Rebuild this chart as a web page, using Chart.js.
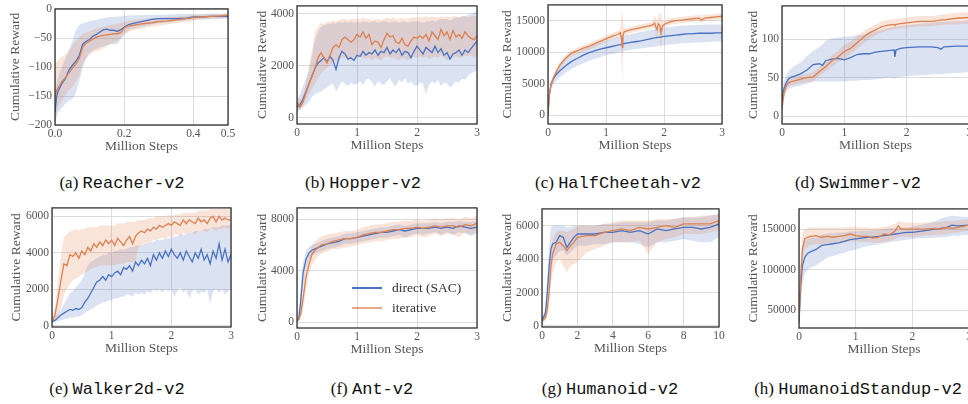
<!DOCTYPE html>
<html>
<head>
<meta charset="utf-8">
<script src="https://cdn.jsdelivr.net/npm/chart.js@4.4.1/dist/chart.umd.min.js"></script>
<style>
    body { margin: 0; width: 968px; height: 404px; overflow: hidden; background: #fff; position: relative; }
    canvas { position: absolute; }
    .cap { position: absolute; transform: translate(-50%, -50%); white-space: nowrap; font: 17px 'Liberation Serif', serif; color: #111; }
    .cap span { font-family: 'Liberation Mono', monospace; font-size: 17px; }
    .leg { position: absolute; font: 13.5px 'Liberation Serif', serif; color: #333; }
    .leg i { position: absolute; height: 1.5px; width: 30px; }
</style>
</head>
<body>
<script>
const seriesNames = ['direct (SAC)', 'iterative'];

// shared x grid for the noisy 3M-step runs
const steps3 = [0, 0.05, 0.1, 0.15, 0.2, 0.25, 0.3, 0.35, 0.4, 0.45, 0.5, 0.55, 0.6, 0.65, 0.7, 0.75, 0.8, 0.85, 0.9, 0.95,
    1.0, 1.05, 1.1, 1.15, 1.2, 1.25, 1.3, 1.35, 1.4, 1.45, 1.5, 1.55, 1.6, 1.65, 1.7, 1.75, 1.8, 1.85, 1.9, 1.95,
    2.0, 2.05, 2.1, 2.15, 2.2, 2.25, 2.3, 2.35, 2.4, 2.45, 2.5, 2.55, 2.6, 2.65, 2.7, 2.75, 2.8, 2.85, 2.9, 2.95, 3.0];
const ticks3 = [0, 1, 2, 3];

// (a) Reacher
const reacherSteps = [0, 0.005, 0.01, 0.02, 0.03, 0.04, 0.05, 0.06, 0.07, 0.08, 0.09, 0.1, 0.11, 0.12, 0.13, 0.14, 0.15, 0.16, 0.17, 0.18,
    0.19, 0.2, 0.21, 0.22, 0.25, 0.28, 0.3, 0.32, 0.35, 0.38, 0.4, 0.42, 0.45, 0.48, 0.5];
const reacherDirect = [-178, -150, -140, -128, -120, -105, -97, -90, -80, -60, -55, -52, -46, -43, -39, -35, -34, -36, -36, -38,
    -35, -31, -27, -25, -21, -17, -16, -16, -16, -15, -13, -13, -12, -12, -12];
const reacherDirectLo = [-200, -185, -178, -170, -163, -158, -155, -145, -125, -100, -85, -75, -70, -68, -66, -64, -62, -60, -60, -60,
    -52, -42, -37, -34, -30, -26, -24, -23, -21, -19, -18, -17, -16, -16, -16];
const reacherDirectHi = [-150, -125, -115, -100, -85, -70, -55, -36, -27, -24, -22, -20, -19, -18, -16, -15, -14, -13, -13, -12,
    -12, -11, -11, -10, -10, -9, -9, -9, -8, -8, -8, -8, -7, -7, -7];
const reacherIter = [-152, -140, -135, -125, -118, -110, -102, -95, -85, -65, -58, -55, -51, -48, -46, -45, -44, -43, -42, -42,
    -40, -32, -29, -28, -25, -23, -21, -20, -18, -16, -14, -13, -12, -11, -10];
const reacherIterLo = [-200, -180, -168, -158, -148, -140, -135, -125, -115, -95, -85, -78, -74, -72, -70, -67, -64, -60, -58, -55,
    -50, -44, -40, -37, -33, -30, -28, -26, -24, -21, -20, -18, -17, -16, -15];
const reacherIterHi = [-95, -90, -87, -82, -78, -72, -62, -55, -48, -42, -40, -38, -35, -33, -31, -30, -28, -27, -26, -25,
    -23, -22, -20, -19, -17, -15, -14, -13, -12, -11, -10, -9, -8, -8, -7];
const reacherXTicks = [0, 0.2, 0.4, 0.5];
const reacherYTicks = [-200, -150, -100, -50, 0];

// (b) Hopper
const hopperDirect = [400, 500, 700, 1000, 1300, 1600, 1900, 2100, 2200, 2300,
    2150, 2350, 2200, 1850, 2300, 2550, 2450, 2250, 2300, 2200,
    2400, 2350, 2550, 2400, 2500, 2450, 2600, 2400, 2550, 2500,
    2700, 2450, 2600, 2500, 2650, 2400, 2550, 2500, 2300, 2550,
    2750, 2600, 2450, 2700, 2600, 2500, 2750, 2500, 2650, 2400,
    2500, 2250, 2450, 2500, 2600, 2400, 2600, 2500, 2650, 2800, 2950];
const hopperDirectLo = [200, 300, 400, 500, 600, 800, 900, 950, 1000, 1100,
    1150, 1250, 1300, 1000, 1200, 1400, 1300, 1200, 1350, 1250,
    1300, 1400, 1250, 1450, 1500, 1350, 1200, 1400, 1300, 1250,
    1400, 1500, 1300, 1200, 1450, 1350, 1500, 1300, 1400, 1250,
    1200, 1350, 1300, 900, 1250, 1400, 1300, 1450, 1200, 1350,
    1300, 1150, 1250, 1400, 1350, 1500, 1450, 1600, 1700, 1750, 1800];
const hopperDirectHi = [700, 900, 1200, 1500, 1800, 2400, 3000, 3300, 3500, 3550,
    3600, 3600, 3650, 3600, 3700, 3650, 3700, 3650, 3700, 3650,
    3700, 3650, 3700, 3700, 3650, 3700, 3700, 3650, 3700, 3700,
    3700, 3650, 3700, 3700, 3650, 3700, 3700, 3650, 3700, 3700,
    3700, 3700, 3650, 3700, 3700, 3750, 3700, 3750, 3800, 3800,
    3800, 3750, 3800, 3850, 3850, 3900, 3900, 3950, 4000, 4050, 4100];
const hopperIter = [600, 400, 600, 950, 1300, 1600, 1900, 2300, 2500, 2300,
    2100, 2400, 2700, 2800, 2700, 3000, 3100, 3000, 2900, 3000,
    3200, 3100, 3300, 3050, 3200, 2800, 2950, 2900, 2700, 3000,
    3250, 3100, 3150, 2900, 2850, 3050, 2800, 2750, 2950, 3100,
    3050, 3150, 3050, 3200, 2950, 3300, 3150, 3000, 3400, 3150,
    3300, 3000, 3350, 3100, 3200, 3050, 3300, 3150, 3050, 3000, 3150];
const hopperIterLo = [300, 300, 450, 700, 900, 1100, 1300, 1500, 1700, 1800,
    1900, 2000, 2100, 2200, 2200, 2300, 2300, 2250, 2300, 2300,
    2300, 2350, 2300, 2250, 2300, 2200, 2300, 2250, 2200, 2300,
    2350, 2300, 2300, 2250, 2200, 2300, 2250, 2200, 2300, 2350,
    2300, 2350, 2300, 2350, 2250, 2300, 2350, 2300, 2400, 2300,
    2200, 2250, 2300, 2350, 2300, 2300, 2400, 2350, 2400, 2300, 2400];
const hopperIterHi = [800, 700, 900, 1300, 2000, 2600, 3300, 3500, 3650, 3600,
    3700, 3700, 3750, 3700, 3750, 3800, 3800, 3750, 3800, 3800,
    3800, 3800, 3850, 3800, 3800, 3750, 3800, 3800, 3750, 3800,
    3850, 3800, 3850, 3800, 3800, 3850, 3800, 3800, 3850, 3850,
    3850, 3850, 3850, 3900, 3850, 3900, 3850, 3850, 3900, 3850,
    3900, 3850, 3900, 3900, 3850, 3900, 3900, 3850, 3900, 3900, 3900];
const hopperYTicks = [0, 2000, 4000];

// (c) HalfCheetah
const cheetahSteps = [0, 0.02, 0.05, 0.1, 0.15, 0.2, 0.3, 0.4, 0.5, 0.6,
    0.7, 0.8, 0.9, 1.0, 1.1, 1.2, 1.25, 1.27, 1.28, 1.29,
    1.31, 1.4, 1.5, 1.6, 1.7, 1.8, 1.84, 1.86, 1.88, 1.9,
    1.93, 1.95, 1.97, 2.0, 2.1, 2.2, 2.3, 2.4, 2.5, 2.6,
    2.65, 2.7, 2.8, 2.9, 3.0];
const cheetahDirect = [0, 3000, 4800, 5900, 6500, 7000, 7800, 8500, 9000, 9500,
    9900, 10200, 10500, 10700, 10900, 11100, 11200, 11250, 11300, 11300,
    11350, 11500, 11650, 11800, 12000, 12200, 12250, 12300, 12300, 12350,
    12400, 12400, 12450, 12500, 12600, 12700, 12800, 12900, 12950, 13000,
    13000, 13000, 13000, 13050, 13050];
const cheetahDirectLo = [0, 2500, 4000, 5000, 5500, 6000, 6700, 7300, 7800, 8200,
    8600, 8900, 9200, 9500, 9700, 9900, 10000, 10050, 10100, 10100,
    10150, 10300, 10500, 10600, 10700, 10800, 10850, 10900, 10900, 10950,
    11000, 11000, 11050, 11100, 11200, 11300, 11400, 11450, 11500, 11550,
    11550, 11600, 11650, 11700, 11700];
const cheetahDirectHi = [0, 3500, 5500, 6500, 7200, 7800, 8800, 9500, 9900, 10400,
    10800, 11200, 11500, 11800, 12100, 12400, 12500, 12550, 12600, 12600,
    12650, 12800, 13000, 13200, 13400, 13600, 13650, 13700, 13700, 13750,
    13800, 13800, 13850, 13900, 14000, 14100, 14200, 14250, 14300, 14350,
    14350, 14400, 14400, 14400, 14400];
const cheetahIter = [0, 3000, 4800, 6000, 7000, 7900, 9000, 9800, 10200, 10600,
    10900, 11300, 11700, 12100, 12500, 12800, 13100, 12000, 10800, 12500,
    13200, 13500, 13700, 13900, 14100, 14300, 14600, 13900, 13600, 14500,
    14200, 13000, 14100, 14400, 14800, 15000, 15100, 15200, 15300, 15400,
    15100, 15400, 15500, 15600, 15700];
const cheetahIterLo = [0, 2500, 4300, 5500, 6500, 7400, 8500, 9300, 9700, 10100,
    10400, 10800, 11200, 11600, 12000, 12300, 12600, 8000, 5000, 9000,
    12700, 13000, 13200, 13400, 13600, 13800, 14000, 12500, 12000, 13700,
    12000, 9700, 13000, 13900, 14300, 14500, 14600, 14700, 14800, 14900,
    14700, 14900, 15000, 15100, 15200];
const cheetahIterHi = [0, 3500, 5300, 6500, 7500, 8400, 9500, 10300, 10700, 11100,
    11400, 11800, 12200, 12600, 13000, 13300, 13600, 16500, 16500, 15500,
    13700, 14000, 14200, 14400, 14600, 14800, 15800, 15500, 15000, 15300,
    16300, 16200, 15000, 14900, 15300, 15500, 15600, 15700, 15800, 15900,
    15800, 15900, 16000, 16100, 16200];
const cheetahYTicks = [0, 5000, 10000, 15000];

// (d) Swimmer
const swimmerSteps = [0, 0.03, 0.06, 0.1, 0.15, 0.2, 0.3, 0.4, 0.5, 0.6,
    0.65, 0.7, 0.8, 0.9, 1.0, 1.1, 1.2, 1.3, 1.4, 1.5,
    1.6, 1.7, 1.8, 1.81, 1.83, 1.9, 2.0, 2.2, 2.4, 2.5,
    2.55, 2.6, 2.8, 3.0];
const swimmerDirect = [20, 35, 42, 48, 51, 52, 55, 60, 67, 68,
    66, 72, 74, 75, 73, 76, 80, 81, 81, 83,
    84, 85, 86, 77, 86, 88, 89, 90, 90, 89,
    87, 90, 91, 91];
const swimmerDirectLo = [5, 22, 30, 35, 37, 38, 40, 42, 45, 45,
    45, 45, 45, 45, 45, 46, 46, 47, 47, 48,
    49, 50, 50, 48, 50, 51, 52, 53, 54, 55,
    54, 55, 56, 57];
const swimmerDirectHi = [30, 45, 52, 58, 62, 65, 70, 78, 85, 90,
    93, 98, 101, 102, 103, 104, 105, 106, 108, 110,
    112, 114, 116, 116, 116, 117, 118, 120, 121, 122,
    122, 122, 123, 124];
const swimmerIter = [10, 30, 38, 43, 45, 46, 48, 50, 51, 58,
    61, 64, 72, 77, 84, 88, 95, 102, 108, 112,
    116, 118, 119, 118, 119, 120, 121, 123, 123, 124,
    125, 125, 127, 128];
const swimmerIterLo = [5, 22, 32, 38, 40, 41, 43, 44, 45, 52,
    55, 58, 64, 70, 75, 80, 87, 94, 100, 105,
    109, 111, 113, 112, 113, 114, 115, 116, 117, 118,
    118, 119, 119, 120];
const swimmerIterHi = [15, 38, 44, 48, 50, 51, 53, 55, 57, 64,
    67, 71, 79, 85, 93, 97, 104, 110, 115, 119,
    123, 125, 126, 126, 126, 127, 128, 130, 130, 131,
    132, 132, 134, 135];
const swimmerYTicks = [0, 50, 100];

// (e) Walker2d
const walkerDirect = [250, 300, 450, 600, 700, 800, 900, 850, 950, 900,
    1000, 1300, 1500, 1800, 2100, 2400, 2500, 2700, 2500, 2800,
    2700, 2900, 3000, 2800, 3200, 3100, 3300, 3000, 3500, 3300,
    3600, 3400, 3700, 3300, 3900, 3600, 4000, 3700, 4100, 3800,
    4200, 3900, 3700, 4000, 3600, 4100, 3800, 3500, 4000, 3700,
    4200, 3600, 3900, 3400, 4100, 3700, 4500, 3600, 4200, 3500, 3900];
const walkerDirectLo = [150, 200, 250, 300, 350, 400, 450, 450, 500, 500,
    600, 700, 800, 900, 1000, 1100, 1200, 1300, 1300, 1400,
    1400, 1500, 1500, 1600, 1600, 1700, 1700, 1600, 1800, 1700,
    1800, 1700, 1900, 1800, 2000, 1900, 2000, 1800, 2000, 1900,
    2000, 1600, 1900, 2100, 1800, 2000, 1500, 1900, 2000, 1700,
    1900, 1800, 2000, 1200, 1900, 2000, 1800, 2000, 1700, 1900, 2000];
const walkerDirectHi = [400, 500, 700, 900, 1200, 1500, 1800, 1900, 2100, 2300,
    2500, 2900, 3300, 3500, 3600, 3700, 3800, 3900, 3900, 4000,
    4000, 4100, 4100, 4200, 4200, 4200, 4300, 4300, 4400, 4400,
    4400, 4500, 4500, 4600, 4600, 4700, 4700, 4700, 4800, 4800,
    4800, 4900, 4900, 5000, 5000, 5000, 5100, 5100, 5200, 5200,
    5200, 5300, 5300, 5300, 5400, 5400, 5400, 5500, 5500, 5500, 5500];
const walkerIter = [250, 600, 1500, 2500, 3400, 3300, 3900, 3800, 4000, 3700,
    4100, 3900, 4300, 4100, 4500, 4300, 4600, 4400, 4700, 4500,
    4700, 4400, 4800, 4600, 4400, 4700, 4900, 4500, 4900, 5100,
    5200, 5100, 5300, 5200, 5400, 5300, 5500, 5400, 5500, 5600,
    5500, 5700, 5600, 5500, 5800, 5600, 5800, 5700, 5600, 5900,
    5700, 5800, 5600, 5900, 6000, 5700, 6000, 5800, 5900, 5800, 5800];
const walkerIterLo = [200, 300, 600, 1000, 1700, 2000, 2300, 2500, 2600, 2700,
    2800, 2900, 3000, 3100, 3200, 3200, 3300, 3300, 3300, 3300,
    3300, 3300, 3400, 3400, 3400, 3500, 3500, 3500, 3500, 4300,
    4400, 4500, 4500, 4600, 4700, 4700, 4800, 4800, 4800, 4900,
    4800, 5000, 5000, 4900, 5100, 5000, 5100, 5100, 5000, 5200,
    5200, 5200, 5100, 5300, 5300, 5200, 5300, 5300, 5400, 5300, 5400];
const walkerIterHi = [300, 1000, 2500, 3800, 4900, 5000, 5200, 5200, 5300, 5200,
    5300, 5300, 5400, 5400, 5400, 5400, 5500, 5500, 5500, 5500,
    5500, 5500, 5600, 5600, 5600, 5700, 5700, 5700, 5700, 5800,
    5800, 5800, 5900, 5900, 5900, 6000, 6000, 6000, 6000, 6100,
    6000, 6100, 6100, 6100, 6200, 6200, 6200, 6200, 6200, 6300,
    6300, 6300, 6300, 6400, 6400, 6400, 6400, 6400, 6400, 6400, 6400];
const walkerYTicks = [0, 2000, 4000, 6000];

// (f) Ant
const antSteps = [0, 0.03, 0.06, 0.1, 0.15, 0.2, 0.25, 0.3, 0.4, 0.5,
    0.6, 0.7, 0.8, 0.9, 1.0, 1.1, 1.2, 1.3, 1.4, 1.5,
    1.6, 1.7, 1.8, 1.9, 2.0, 2.1, 2.2, 2.3, 2.4, 2.5,
    2.6, 2.7, 2.8, 2.9, 3.0];
const antDirect = [100, 300, 1500, 3800, 4900, 5400, 5600, 5700, 5900, 6100,
    6200, 6300, 6500, 6500, 6600, 6700, 6800, 6900, 7000, 7000,
    7100, 7200, 7100, 7200, 7300, 7300, 7300, 7400, 7300, 7400,
    7300, 7500, 7400, 7300, 7400];
const antDirectLo = [0, 100, 800, 2800, 4200, 4900, 5200, 5300, 5500, 5700,
    5800, 5900, 6100, 6100, 6200, 6300, 6400, 6500, 6600, 6600,
    6700, 6800, 6600, 6800, 6900, 6800, 6900, 7000, 6800, 7000,
    6800, 7000, 6900, 6700, 6900];
const antDirectHi = [200, 600, 2500, 4600, 5500, 5900, 6000, 6100, 6300, 6500,
    6600, 6700, 6900, 6900, 7000, 7100, 7200, 7300, 7400, 7400,
    7500, 7600, 7500, 7600, 7700, 7700, 7700, 7800, 7700, 7800,
    7800, 7900, 7800, 7800, 7900];
const antIter = [100, 200, 600, 1800, 3500, 4500, 5300, 5600, 6000, 6100,
    6300, 6400, 6500, 6500, 6600, 6800, 6900, 7000, 7000, 7100,
    7200, 7200, 7300, 7300, 7400, 7300, 7400, 7500, 7400, 7500,
    7500, 7400, 7600, 7500, 7700];
const antIterLo = [0, 100, 300, 900, 2500, 3800, 4400, 4900, 5300, 5500,
    5700, 5700, 5800, 5900, 6000, 6100, 6200, 6300, 6300, 6400,
    6500, 6500, 6600, 6600, 6800, 6600, 6700, 6900, 6700, 6900,
    6800, 6600, 7000, 6800, 7100];
const antIterHi = [200, 400, 1000, 2800, 4500, 5300, 6000, 6300, 6700, 6800,
    6900, 7000, 7100, 7100, 7200, 7400, 7500, 7600, 7600, 7700,
    7800, 7800, 7900, 7900, 8000, 7900, 8000, 8100, 8000, 8100,
    8100, 8000, 8200, 8100, 8300];
const antYTicks = [0, 4000, 8000];

// (g) Humanoid
const humanoidSteps = [0, 0.2, 0.3, 0.4, 0.5, 0.6, 0.8, 1.0, 1.2, 1.4,
    1.6, 1.8, 2.0, 2.5, 3, 3.5, 4, 4.5, 5, 5.5,
    6, 6.5, 7, 7.5, 8, 8.5, 9, 9.5, 10];
const humanoidDirect = [300, 800, 2000, 3500, 4600, 4900, 5000, 5400, 5300, 4700,
    5000, 5300, 5500, 5500, 5500, 5600, 5600, 5700, 5600, 5700,
    5500, 5800, 5700, 5800, 5900, 5900, 5800, 5900, 6100];
const humanoidDirectLo = [200, 500, 1200, 2500, 3500, 4000, 4200, 4500, 4500, 4200,
    4400, 4600, 4800, 4800, 4900, 4900, 5000, 5000, 5000, 4900,
    4700, 5000, 5000, 5100, 5200, 5100, 5000, 5000, 5300];
const humanoidDirectHi = [400, 1200, 3000, 4600, 5900, 6000, 6000, 6000, 6000, 5900,
    5900, 6000, 6000, 6000, 6000, 6100, 6100, 6200, 6200, 6200,
    6200, 6300, 6300, 6400, 6500, 6500, 6500, 6600, 6700];
const humanoidIter = [300, 500, 1000, 2000, 3500, 4300, 4900, 5000, 4800, 4500,
    4800, 5000, 5300, 5400, 5400, 5600, 5700, 5800, 5700, 5900,
    5800, 5900, 6000, 5900, 6100, 6100, 6100, 6100, 6300];
const humanoidIterLo = [200, 300, 600, 1200, 2500, 3200, 3800, 4000, 3600, 3200,
    3600, 3700, 3800, 4400, 4600, 4800, 5000, 5000, 5000, 5100,
    4300, 5000, 5200, 5300, 5500, 5500, 5500, 5600, 5700];
const humanoidIterHi = [400, 700, 1500, 3000, 4500, 5200, 5600, 5700, 5700, 5600,
    5700, 5800, 6000, 6000, 6000, 6100, 6200, 6300, 6300, 6300,
    6300, 6400, 6400, 6400, 6500, 6500, 6600, 6600, 6700];
const humanoidXTicks = [0, 2, 4, 6, 8, 10];
const humanoidYTicks = [0, 2000, 4000, 6000];

// (h) HumanoidStandup
const standupSteps = [0, 0.03, 0.06, 0.1, 0.15, 0.2, 0.3, 0.4, 0.5, 0.6,
    0.7, 0.8, 0.9, 1.0, 1.1, 1.2, 1.3, 1.4, 1.5, 1.6,
    1.7, 1.75, 1.8, 1.9, 2.0, 2.2, 2.4, 2.5, 2.6, 2.7,
    2.8, 3.0];
const standupDirect = [35000, 80000, 105000, 115000, 120000, 122000, 125000, 130000, 131000, 132000,
    133000, 135000, 137000, 138000, 139000, 140000, 140000, 141000, 142000, 143000,
    144000, 144500, 145000, 146000, 146000, 148000, 150000, 151000, 152000, 155000,
    154000, 155000];
const standupDirectLo = [30000, 55000, 80000, 95000, 100000, 102000, 105000, 110000, 115000, 117000,
    119000, 121000, 123000, 125000, 127000, 129000, 130000, 131000, 133000, 134000,
    135000, 135000, 136000, 137000, 138000, 139000, 139000, 140000, 140000, 142000,
    142000, 143000];
const standupDirectHi = [45000, 105000, 130000, 135000, 138000, 139000, 140000, 143000, 145000, 145000,
    146000, 146000, 147000, 147000, 148000, 148000, 149000, 149000, 150000, 151000,
    151000, 152000, 152000, 152000, 153000, 156000, 159000, 163000, 165000, 167000,
    166000, 165000];
const standupIter = [40000, 90000, 125000, 138000, 140000, 141000, 142000, 140000, 141000, 140000,
    141000, 142000, 144000, 142000, 141000, 141000, 139000, 140000, 144000, 143000,
    148000, 154000, 150000, 150000, 150000, 150000, 151000, 150000, 152000, 151000,
    152000, 155000];
const standupIterLo = [30000, 70000, 110000, 125000, 128000, 130000, 131000, 131000, 132000, 132000,
    133000, 134000, 134000, 135000, 134000, 134000, 133000, 133000, 134000, 135000,
    138000, 140000, 141000, 140000, 140000, 142000, 143000, 143000, 144000, 145000,
    146000, 148000];
const standupIterHi = [50000, 110000, 145000, 150000, 151000, 152000, 152000, 152000, 152000, 152000,
    152000, 152000, 153000, 153000, 152000, 152000, 151000, 152000, 153000, 154000,
    157000, 160000, 159000, 158000, 158000, 158000, 159000, 159000, 160000, 160000,
    161000, 162000];
const standupYTicks = [50000, 100000, 150000];

const BLUE = '#4a72c2';
const ORANGE = '#dd8050';
const BLUE_BAND = 'rgba(76, 114, 196, 0.2)';
const ORANGE_BAND = 'rgba(221, 132, 82, 0.22)';

// box = plot area [left, top, right, bottom] on the page
const panels = [
    { tag: '(a)', env: 'Reacher-v2', steps: reacherSteps, direct: [reacherDirect, reacherDirectLo, reacherDirectHi],
      iter: [reacherIter, reacherIterLo, reacherIterHi], xTicks: reacherXTicks, yTicks: reacherYTicks, xDigits: 1,
      x: [0, 0.5], y: [-200, 1], box: [55, 6, 228, 125], titleGap: 40, cap: [122, 183] },
    { tag: '(b)', env: 'Hopper-v2', steps: steps3, direct: [hopperDirect, hopperDirectLo, hopperDirectHi],
      iter: [hopperIter, hopperIterLo, hopperIterHi], xTicks: ticks3, yTicks: hopperYTicks, xDigits: 0,
      x: [0, 3], y: [-250, 4300], box: [297, 3, 477, 124], titleGap: 35, cap: [363, 183] },
    { tag: '(c)', env: 'HalfCheetah-v2', steps: cheetahSteps, direct: [cheetahDirect, cheetahDirectLo, cheetahDirectHi],
      iter: [cheetahIter, cheetahIterLo, cheetahIterHi], xTicks: ticks3, yTicks: cheetahYTicks, xDigits: 0,
      x: [0, 3], y: [-1400, 17500], box: [548, 2, 722, 124], titleGap: 41, cap: [618, 183] },
    { tag: '(d)', env: 'Swimmer-v2', steps: swimmerSteps, direct: [swimmerDirect, swimmerDirectLo, swimmerDirectHi],
      iter: [swimmerIter, swimmerIterLo, swimmerIterHi], xTicks: ticks3, yTicks: swimmerYTicks, xDigits: 0,
      x: [0, 3], y: [-10, 143], box: [782, 3, 969, 124], titleGap: 29, cap: [858, 183] },
    { tag: '(e)', env: 'Walker2d-v2', steps: steps3, direct: [walkerDirect, walkerDirectLo, walkerDirectHi],
      iter: [walkerIter, walkerIterLo, walkerIterHi], xTicks: ticks3, yTicks: walkerYTicks, xDigits: 0,
      x: [0, 3], y: [-60, 6460], box: [52, 205, 231, 327], titleGap: 36, cap: [117, 389] },
    { tag: '(f)', env: 'Ant-v2', steps: antSteps, direct: [antDirect, antDirectLo, antDirectHi],
      iter: [antIter, antIterLo, antIterHi], xTicks: ticks3, yTicks: antYTicks, xDigits: 0,
      x: [0, 3], y: [-460, 8900], box: [297, 205, 477, 328], titleGap: 35, cap: [372, 389] },
    { tag: '(g)', env: 'Humanoid-v2', steps: humanoidSteps, direct: [humanoidDirect, humanoidDirectLo, humanoidDirectHi],
      iter: [humanoidIter, humanoidIterLo, humanoidIterHi], xTicks: humanoidXTicks, yTicks: humanoidYTicks, xDigits: 0,
      x: [0, 10], y: [-60, 7000], box: [542, 206, 719, 327], titleGap: 35, cap: [610, 389] },
    { tag: '(h)', env: 'HumanoidStandup-v2', steps: standupSteps, direct: [standupDirect, standupDirectLo, standupDirectHi],
      iter: [standupIter, standupIterLo, standupIterHi], xTicks: ticks3, yTicks: standupYTicks, xDigits: 0,
      x: [0, 3], y: [28000, 175000], box: [799, 206, 969, 328], titleGap: 46, cap: [858, 389] },
];

Chart.defaults.font.family = "'Liberation Serif', serif";
Chart.defaults.color = '#555';

const frame = {
    id: 'frame',
    afterDraw(chart) {
        const { ctx, chartArea: a } = chart;
        ctx.save();
        ctx.strokeStyle = '#222';
        ctx.lineWidth = 1.2;
        ctx.strokeRect(a.left, a.top, a.right - a.left, a.bottom - a.top);
        ctx.restore();
    },
};

function points(xs, ys) {
    return xs.map((x, i) => ({ x: x, y: ys[i] }));
}

function band(xs, lo, hi, color, order) {
    const edge = { borderColor: 'rgba(0,0,0,0)', borderWidth: 0, pointRadius: 0, order: order };
    return [
        Object.assign({ data: points(xs, lo), fill: false }, edge),
        Object.assign({ data: points(xs, hi), fill: '-1', backgroundColor: color }, edge),
    ];
}

function line(xs, ys, color, order, name) {
    return { label: name, data: points(xs, ys), borderColor: color, borderWidth: 1.3, pointRadius: 0, fill: false, order: order };
}

function minus(v) {
    return String(v).replace('-', '\u2212');
}

panels.forEach(p => {
    const [pl, pt, pr, pb] = p.box;
    const yWidth = p.titleGap + 9;
    const xHeight = 30;
    const padTop = 7, padRight = 14;
    const left = pl - yWidth, top = pt - padTop;

    const canvas = document.createElement('canvas');
    canvas.width = pr + padRight - left;
    canvas.height = pb + xHeight - top;
    canvas.style.left = left + 'px';
    canvas.style.top = top + 'px';
    document.body.appendChild(canvas);

    const datasets = [
        ...band(p.steps, p.direct[1], p.direct[2], BLUE_BAND, 3),
        ...band(p.steps, p.iter[1], p.iter[2], ORANGE_BAND, 2),
        line(p.steps, p.direct[0], BLUE, 1, seriesNames[0]),
        line(p.steps, p.iter[0], ORANGE, 0, seriesNames[1]),
    ];

    new Chart(canvas, {
        type: 'line',
        data: { datasets: datasets },
        options: {
            responsive: false,
            animation: false,
            events: [],
            devicePixelRatio: 1,
            layout: { padding: { left: 0, top: padTop, right: padRight, bottom: 0 } },
            plugins: { legend: { display: false }, tooltip: { enabled: false } },
            elements: { line: { tension: 0 } },
            scales: {
                x: {
                    type: 'linear',
                    min: p.x[0],
                    max: p.x[1],
                    afterBuildTicks: s => { s.ticks = p.xTicks.map(v => ({ value: v })); },
                    afterFit: s => { s.height = xHeight; },
                    border: { display: false },
                    grid: { color: '#dcdcdc', lineWidth: 1, drawTicks: false },
                    ticks: { padding: 2, autoSkip: false, maxRotation: 0, font: { size: 11.5 },
                        callback: v => minus(v.toFixed(p.xDigits)) },
                    title: { display: true, text: 'Million Steps', font: { size: 13.5 }, padding: 0 },
                },
                y: {
                    min: p.y[0],
                    max: p.y[1],
                    afterBuildTicks: s => { s.ticks = p.yTicks.map(v => ({ value: v })); },
                    afterFit: s => { s.width = yWidth; },
                    border: { display: false },
                    grid: { color: '#dcdcdc', lineWidth: 1, drawTicks: false },
                    ticks: { padding: 3, autoSkip: false, font: { size: 11.5 }, callback: v => minus(v) },
                    title: { display: true, text: 'Cumulative Reward', font: { size: 13.5 }, padding: { top: 1, bottom: 0 } },
                },
            },
        },
        plugins: [frame],
    });

    const cap = document.createElement('div');
    cap.className = 'cap';
    cap.style.left = p.cap[0] + 'px';
    cap.style.top = p.cap[1] + 'px';
    cap.append(p.tag + ' ');
    const env = document.createElement('span');
    env.textContent = p.env;
    cap.appendChild(env);
    document.body.appendChild(cap);
});

// legend sits inside the Ant panel
[[BLUE, 288], ['rgba(221, 132, 82, 0.7)', 308]].forEach(([color, y], i) => {
    const item = document.createElement('div');
    item.className = 'leg';
    item.style.left = '352px';
    item.style.top = (y - 9) + 'px';
    item.style.paddingLeft = '40px';
    item.style.lineHeight = '18px';
    const swatch = document.createElement('i');
    swatch.style.left = '0px';
    swatch.style.top = '8px';
    swatch.style.background = color;
    item.appendChild(swatch);
    item.append(seriesNames[i]);
    document.body.appendChild(item);
});
</script>
</body>
</html>
